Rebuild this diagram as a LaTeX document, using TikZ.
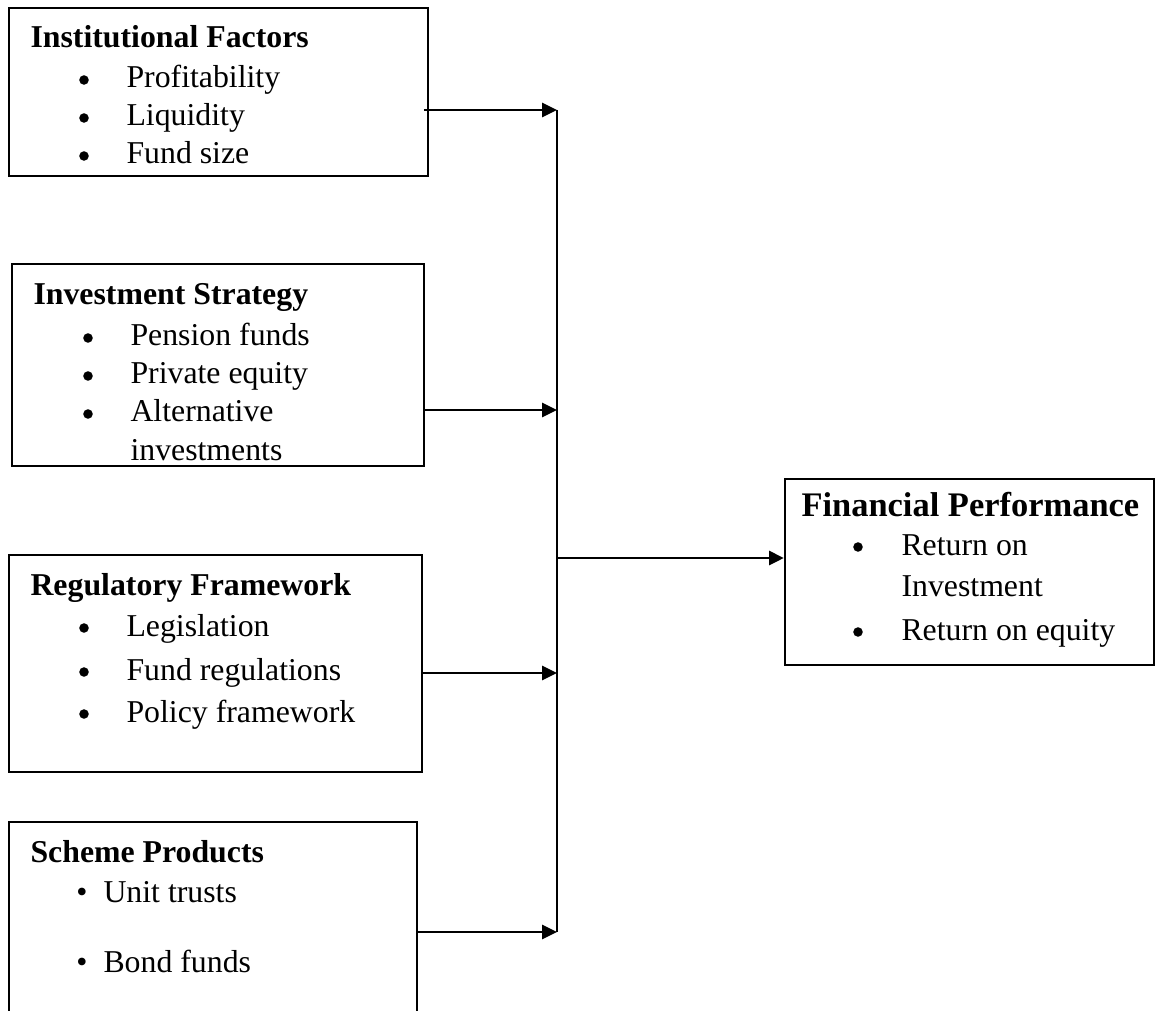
\documentclass[tikz,border=0pt]{standalone}
\usepackage{fontspec}
\setmainfont{Liberation Serif}
\usetikzlibrary{arrows.meta,fit}
\begin{document}
\begin{tikzpicture}[x=0.3774pt,y=-0.3774pt,
  font=\fontsize{12}{14}\selectfont,
  box/.style={draw, line width=0.8pt, inner sep=0pt},
  ttl/.style={anchor=base west, inner sep=0pt, font=\fontsize{12}{14}\selectfont\bfseries},
  itm/.style={anchor=base west, inner sep=0pt},
  dot/.style={circle, fill, inner sep=0pt, minimum size=3.6pt},
  bul/.style={anchor=base, inner sep=0pt},
  arr/.style={line width=1.1pt, -{Triangle[length=5.6pt,width=5.2pt]}},
  bus/.style={line width=1.1pt}]
\clip (0,0) rectangle (1156,1011);
\useasboundingbox (0,0) rectangle (1156,1011);

% Boxes
\node[box, fit={(9,8) (428,176)}] (b1) {};
\node[box, fit={(12,264) (424,466)}] (b2) {};
\node[box, fit={(9,555) (422,772)}] (b3) {};
\node[box, fit={(9,822) (417,1040)}] (b4) {};
\node[box, fit={(785,479) (1154,665)}] (b5) {};

% Box 1
\node[ttl] (t1) at (30,48) {Institutional Factors};
\node[dot] (p1a) at (84,80) {};
\node[itm] (i1a) at (126,88) {Profitability};
\node[dot] (p1b) at (84,118) {};
\node[itm] (i1b) at (126,126) {Liquidity};
\node[dot] (p1c) at (84,156) {};
\node[itm] (i1c) at (126,164) {Fund size};

% Box 2
\node[ttl] (t2) at (33,305) {Investment Strategy};
\node[dot] (p2a) at (88,338) {};
\node[itm] (i2a) at (130,346) {Pension funds};
\node[dot] (p2b) at (88,376) {};
\node[itm] (i2b) at (130,384) {Private equity};
\node[dot] (p2c) at (88,414) {};
\node[itm] (i2c) at (130,422) {Alternative};
\node[itm] (i2d) at (130,460) {investments};

% Box 3
\node[ttl] (t3) at (30,595) {Regulatory Framework};
\node[dot] (p3a) at (84,628) {};
\node[itm] (i3a) at (126,636) {Legislation};
\node[dot] (p3b) at (84,672) {};
\node[itm] (i3b) at (126,680) {Fund regulations};
\node[dot] (p3c) at (84,714) {};
\node[itm] (i3c) at (126,722) {Policy framework};

% Box 4
\node[ttl] (t4) at (30,862) {Scheme Products};
\node[bul] (p4a) at (82,902) {\textbullet};
\node[itm] (i4a) at (103,902) {Unit trusts};
\node[bul] (p4b) at (82,972) {\textbullet};
\node[itm] (i4b) at (103,972) {Bond funds};

% Box 5
\node[ttl, font=\fontsize{13}{15}\selectfont\bfseries] (t5) at (801,516) {Financial Performance};
\node[dot] (p5a) at (858,547) {};
\node[itm] (i5a) at (901,555) {Return on};
\node[itm] (i5b) at (901,596) {Investment};
\node[dot] (p5c) at (858,632) {};
\node[itm] (i5c) at (901,640) {Return on equity};

% Junctions on the bus line
\coordinate (j1) at (557,110);
\coordinate (j2) at (557,410);
\coordinate (j3) at (557,673);
\coordinate (j4) at (557,932);
\coordinate (jc) at (557,558);

\draw[bus] (j1) -- (j4);
\draw[arr] ([xshift=-2pt]b1.east |- j1) -- (j1);
\draw[arr] (b2.east |- j2) -- (j2);
\draw[arr] (b3.east |- j3) -- (j3);
\draw[arr] (b4.east |- j4) -- (j4);
\draw[arr] (jc) -- (b5.west |- jc);
\end{tikzpicture}
\end{document}
